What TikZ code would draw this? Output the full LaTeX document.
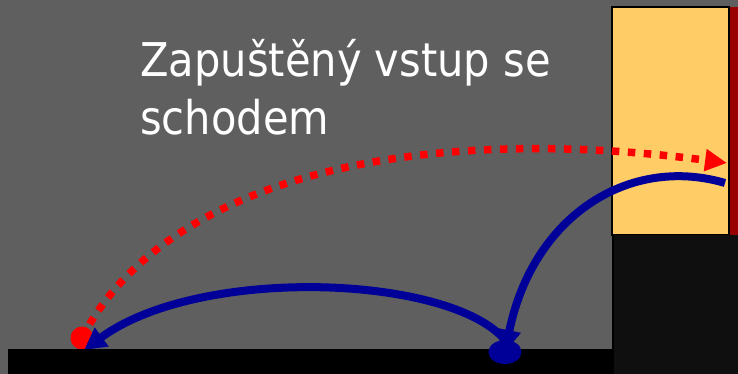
\documentclass[tikz,border=0pt]{standalone}
\usepackage{fontspec}
\setmainfont{DejaVu Sans}[FakeStretch=0.895]
\usepackage{xcolor}
\usetikzlibrary{arrows.meta,shapes.geometric}

\definecolor{slate}{HTML}{5F5F5F}
\definecolor{doorfill}{HTML}{FFCC66}
\definecolor{doorframe}{HTML}{990000}
\definecolor{navy}{HTML}{000099}
\definecolor{pit}{HTML}{0F0F0F}

\tikzset{
    hop/.style={red, line width=7.5pt, dash pattern=on 7.5pt off 8.5pt, -{Triangle[length=22pt,width=21pt]}},
    walk/.style={navy, line width=8pt, -{Triangle[length=22pt,width=22pt]}},
}

\begin{document}
\begin{tikzpicture}[x=1pt, y=-1pt]
        \useasboundingbox (0,0) rectangle (738,374);
        % Background
        \fill[slate] (0,0) rectangle (738,374);

        % Door with frame, dark step below
        \fill[doorfill] (612,7) rectangle (729,235);
        \fill[doorframe] (729,7) rectangle (738,235);
        \draw[black, line width=1.5pt] (612,7) rectangle (729,235);
        \fill[pit] (612,235) rectangle (738,374);
        \draw[black, line width=2pt] (613,235) -- (613,374);

        % Title (base anchor sits on the last line)
        \node[white, anchor=base west, inner sep=0pt, align=left, font=\fontsize{46.5}{58}\selectfont] (title) at (140,135) {Zapuštěný vstup se\\schodem};

        % Points on the walk
        \node[circle, fill=red, inner sep=0pt, minimum size=23pt] (reddot) at (82,338) {};
        \coordinate (wallhit) at (727,163);
        \coordinate (wallout) at (725,183);
        \coordinate (landing) at (84,350);

        % Jump to the door (red), walk out and back (blue)
        \draw[hop] (reddot.center) .. controls (160,185) and (400,120) .. (wallhit);
        \draw[walk] (wallout) .. controls (630,155) and (533,215) .. (505,352) coordinate (bluepos);
        \draw[walk] (505,340) .. controls (450,275) and (200,265) .. (landing);

        % Floor
        \fill[black] (8,349) rectangle (612,374);

        \node[ellipse, fill=navy, inner sep=0pt, minimum width=33pt, minimum height=24pt] (bluedot) at (bluepos) {};
\end{tikzpicture}
\end{document}
